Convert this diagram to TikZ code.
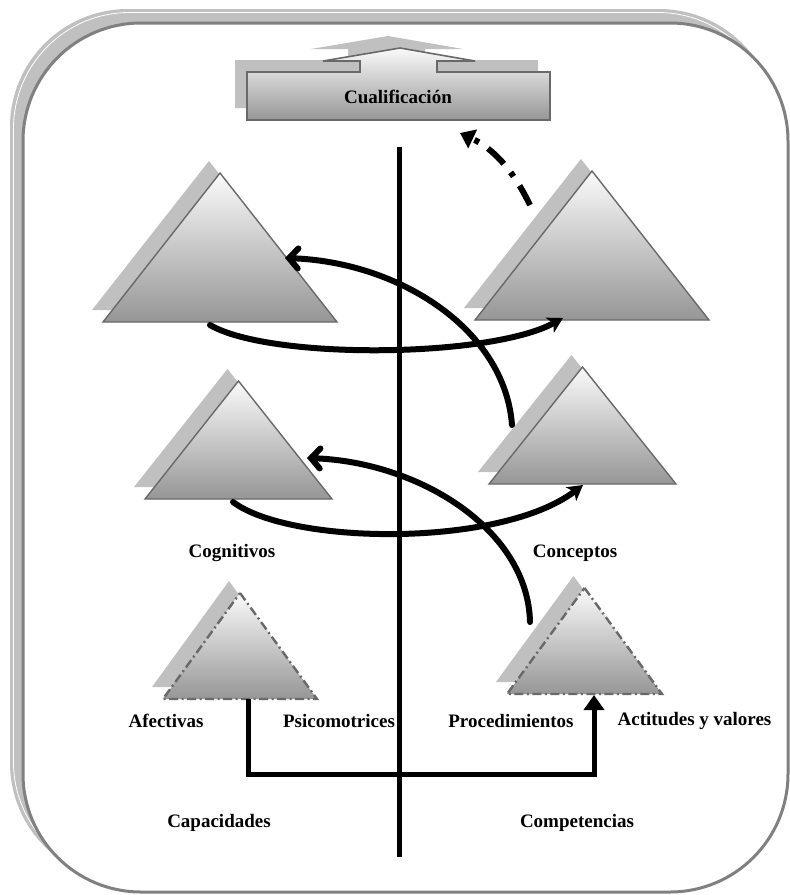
\documentclass[tikz,border=0pt]{standalone}
\usepackage{fontspec}
\setmainfont{Liberation Serif}
\usetikzlibrary{arrows.meta}
\definecolor{shadowgray}{RGB}{192,192,192}
\definecolor{edgegray}{RGB}{105,105,105}
\definecolor{framegray}{RGB}{128,128,128}
\definecolor{lightface}{RGB}{250,250,250}
\definecolor{darkface}{RGB}{150,150,150}

\begin{document}
\begin{tikzpicture}[x=1pt,y=-1pt,
  lbl/.style={font=\fontsize{19}{22}\selectfont\bfseries, inner sep=0pt},
  pyrface/.style={top color=lightface, bottom color=darkface},
  pyredge/.style={draw=edgegray, line width=1.4pt},
  pyrdash/.style={draw=edgegray, line width=2.4pt,
    dash pattern=on 9pt off 3.5pt on 2pt off 3.5pt},
  flowline/.style={line width=6pt, line cap=round},
  backtip/.style={-{Straight Barb[length=9pt,width=20pt,line cap=round]}},
  fwdtip/.style={-{Stealth[length=15pt,width=17pt,inset=4pt]}},
  pics/pyr/.style n args={3}{code={
    \fill[shadowgray] (-11,-12) -- (-11+#1,#2-12) -- (-11-#1,#2-12) -- cycle;
    \path[pyrface, #3] (0,0) -- (#1,#2) -- (-#1,#2) -- cycle;
  }}]

\useasboundingbox (0,0) rectangle (790,895);

% bevelled outer frame
\fill[shadowgray, rounded corners=118pt] (10,9) rectangle (777,881);
\draw[white, line width=0.8pt, rounded corners=116pt] (13.5,12.5) rectangle (774,878);
\draw[framegray, line width=3pt, fill=white, rounded corners=118pt] (23,23) rectangle (788,892);

% top box with upward arrow
\fill[shadowgray, shift={(-12,-12)}]
  (247,72) -- (360,72) -- (360,61) -- (323,61) -- (400,48) -- (475,61)
  -- (437,61) -- (437,72) -- (550,72) -- (550,120) -- (247,120) -- cycle;
\path[pyrface, pyredge, line width=1.6pt]
  (247,72) -- (360,72) -- (360,61) -- (323,61) -- (400,48) -- (475,61)
  -- (437,61) -- (437,72) -- (550,72) -- (550,120) -- (247,120) -- cycle;
\node[lbl] (cual) at (398,97) {Cualificación};

% central divider
\coordinate (vtop) at (399,147);
\coordinate (vbot) at (399,857);
\draw[line width=5pt] (vtop) -- (vbot);

% pyramids
\pic at (220,173)   {pyr={117}{149}{pyredge}};
\pic at (592,171)   {pyr={117}{149}{pyredge}};
\pic at (238.5,381) {pyr={93.5}{118}{pyredge}};
\pic at (582.5,367) {pyr={93.5}{117}{pyredge}};
\pic at (240,593)   {pyr={77}{106}{pyrdash}};
\pic at (584.5,588) {pyr={77.5}{106}{pyrdash}};

% connector end points
\coordinate (d0) at (210,325);  \coordinate (d1) at (563,318);
\coordinate (c0) at (512,425);  \coordinate (c1) at (285,258);
\coordinate (a0) at (530,622);  \coordinate (a1) at (307,458);
\coordinate (b0) at (233,502);  \coordinate (b1) at (583,485);
\coordinate (e0) at (530,205);  \coordinate (e1) at (460,133);
\coordinate (f0) at (248,699);  \coordinate (fk) at (594,774);
\coordinate (f1) at (594,695);

% spiral of arrows
\draw[flowline, fwdtip]  (d0) .. controls (270,360) and (490,358) .. (d1);
\draw[flowline, backtip] (c0) .. controls (505,330) and (400,262) .. (c1);
\draw[flowline, fwdtip]  (b0) .. controls (290,545) and (500,548) .. (b1);
\draw[flowline, backtip] (a0) .. controls (528,530) and (420,462) .. (a1);
\draw[line width=6pt, dash pattern=on 22pt off 11pt on 5pt off 11pt,
      -{Triangle[length=14pt,width=20pt]}]
  (e0) .. controls (512,168) and (492,148) .. (e1);

% elbow link between the lower pyramids
\draw[line width=5pt, -{Triangle[length=15pt,width=20pt]}] (f0) |- (fk) -- (f1);

% labels
\node[lbl] (cog)  at (232,553) {Cognitivos};
\node[lbl] (con)  at (575,553) {Conceptos};
\node[lbl] (afe)  at (166,721) {Afectivas};
\node[lbl] (psi)  at (339,721) {Psicomotrices};
\node[lbl] (pro)  at (511,721) {Procedimientos};
\node[lbl] (act)  at (694.5,721) {Actitudes y valores};
\node[lbl] (cap)  at (219,823) {Capacidades};
\node[lbl] (comp) at (577,823) {Competencias};
\end{tikzpicture}
\end{document}
